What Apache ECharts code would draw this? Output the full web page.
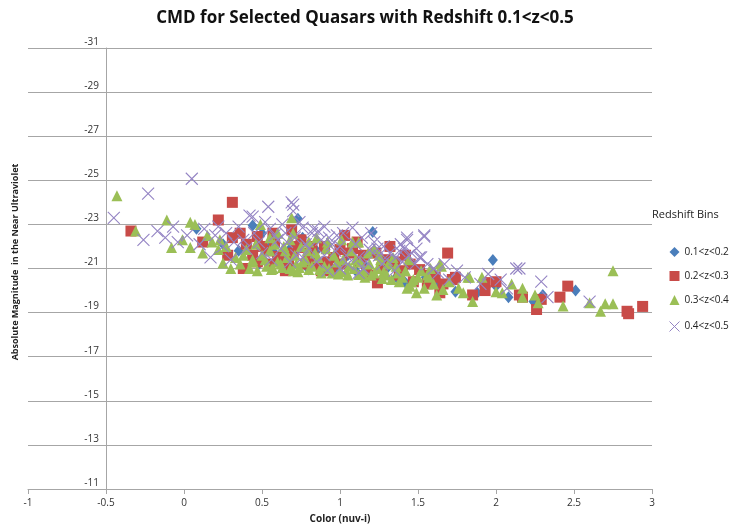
<!DOCTYPE html>
<html><head><meta charset="utf-8">
<script src="https://cdn.jsdelivr.net/npm/echarts@6/dist/echarts.min.js"></script>
<style>html,body{margin:0;padding:0;background:#fff}#c{width:730px;height:529px}</style>
</head><body><div id="c"></div>
<script>
const titleText = "CMD for Selected Quasars with Redshift 0.1<z<0.5";
const xName = "Color (nuv-i)";
const yName = "Absolute Magnitude  in the Near Ultraviolet";
const legendTitle = "Redshift Bins";
const seriesNames = ["0.1<z<0.2", "0.2<z<0.3", "0.3<z<0.4", "0.4<z<0.5"];
const xTicks = [-1, -0.5, 0, 0.5, 1, 1.5, 2, 2.5, 3];
const yTicks = [-31, -29, -27, -25, -23, -21, -19, -17, -15, -13, -11];

const bin1 = [[0.08,-22.8],[0.44,-22.95],[0.73,-23.26],[0.76,-22.4],[1.21,-22.65],[1.42,-20.35],[1.74,-19.95],[1.88,-19.9],[1.98,-21.38],[2.08,-19.7],[2.24,-19.5],[2.51,-20.0],[0.35,-21.8],[0.55,-22.0],[0.62,-21.5],[0.68,-21.9],[0.9,-21.2],[1.05,-21.6],[1.1,-20.9],[1.3,-21.0],[1.55,-20.6],[0.25,-22.1],[0.48,-21.2],[0.85,-21.8],[1.62,-20.3],[2.3,-19.8],[2.0,-20.2],[0.98,-21.0],[0.58,-21.7],[0.8,-20.95],[1.15,-21.2],[1.36,-20.6],[0.5,-22.6]];

const bin2 = [[-0.34,-22.7],[0.12,-22.2],[0.22,-23.2],[0.31,-24.0],[0.28,-21.6],[0.31,-22.4],[0.47,-22.45],[0.5,-22.0],[0.47,-21.3],[0.6,-21.55],[0.69,-22.75],[0.72,-22.0],[0.73,-21.95],[0.62,-21.5],[0.83,-21.5],[0.96,-21.5],[1.0,-21.86],[1.03,-22.5],[1.06,-21.7],[1.08,-21.9],[1.13,-21.3],[1.24,-20.35],[1.27,-21.05],[1.32,-22.0],[1.35,-21.3],[1.47,-20.4],[1.51,-20.95],[1.61,-20.6],[1.69,-21.7],[1.72,-20.5],[1.74,-20.6],[1.85,-19.8],[1.93,-20.36],[1.93,-20.0],[2.0,-20.4],[2.15,-19.8],[2.17,-19.7],[2.26,-19.14],[2.29,-19.6],[2.41,-19.7],[2.46,-20.2],[2.84,-19.06],[2.85,-18.95],[2.94,-19.28],[0.38,-21.0],[0.55,-21.2],[0.65,-20.9],[0.78,-21.2],[0.88,-20.9],[0.92,-21.3],[1.15,-21.6],[1.2,-20.7],[1.4,-20.9],[1.45,-21.2],[1.56,-20.3],[0.4,-22.1],[0.58,-22.2],[0.82,-22.0],[1.64,-19.9],[0.53,-21.8],[0.57,-22.6],[0.67,-21.3],[0.7,-21.7],[0.75,-22.3],[0.8,-21.7],[0.86,-21.2],[0.9,-22.0],[0.94,-20.9],[1.11,-22.2],[1.17,-20.9],[1.29,-21.4],[1.38,-20.7],[1.42,-21.6],[1.58,-20.7],[1.66,-20.3],[0.36,-22.6],[0.44,-21.6],[1.01,-21.2],[1.23,-21.7]];

const bin3 = [[-0.43,-24.3],[-0.31,-22.7],[-0.11,-23.2],[-0.08,-21.95],[-0.01,-22.3],[0.04,-21.95],[0.04,-23.1],[0.07,-23.0],[0.22,-21.86],[0.23,-22.3],[0.25,-21.25],[0.33,-21.5],[0.4,-21.86],[0.44,-21.3],[0.44,-21.4],[0.49,-23.0],[0.53,-21.1],[0.6,-22.6],[0.63,-21.05],[0.69,-23.3],[0.7,-22.6],[0.74,-21.05],[0.87,-20.95],[0.92,-22.2],[0.95,-20.8],[1.01,-22.3],[1.04,-20.85],[1.08,-22.2],[1.12,-22.2],[1.12,-20.73],[1.18,-21.7],[1.2,-20.7],[1.26,-21.4],[1.3,-20.7],[1.34,-21.5],[1.38,-20.4],[1.43,-20.1],[1.44,-21.4],[1.46,-20.4],[1.47,-20.5],[1.49,-19.9],[1.56,-20.7],[1.57,-20.6],[1.6,-20.3],[1.62,-19.8],[1.64,-21.2],[1.65,-21.1],[1.66,-20.05],[1.76,-20.1],[1.79,-19.9],[1.82,-20.6],[1.83,-20.6],[1.85,-19.5],[1.91,-20.6],[2.04,-19.9],[2.17,-20.1],[2.17,-19.7],[2.25,-19.8],[2.27,-19.45],[2.43,-19.3],[2.6,-19.45],[2.67,-19.06],[2.7,-19.4],[2.75,-19.4],[2.75,-20.9],[0.3,-21.0],[0.36,-21.2],[0.5,-21.6],[0.56,-20.95],[0.6,-21.3],[0.66,-21.5],[0.7,-20.9],[0.78,-21.4],[0.8,-20.95],[0.84,-21.7],[0.9,-21.1],[0.98,-21.3],[1.0,-20.9],[1.06,-21.1],[1.1,-21.4],[1.15,-20.9],[1.24,-21.0],[1.28,-20.85],[1.36,-21.1],[1.4,-20.6],[1.52,-20.9],[0.58,-22.1],[0.65,-21.8],[0.75,-22.0],[0.12,-21.7],[0.18,-22.2],[0.46,-22.1],[0.72,-21.2],[0.85,-22.4],[1.22,-21.9],[1.7,-20.4],[2.0,-19.95],[2.1,-20.3],[0.52,-21.4],[0.55,-21.8],[0.57,-21.0],[0.62,-21.2],[0.64,-22.0],[0.68,-21.0],[0.71,-21.6],[0.73,-20.85],[0.76,-21.3],[0.79,-21.8],[0.82,-21.1],[0.86,-21.5],[0.88,-20.8],[0.91,-21.9],[0.93,-21.0],[0.96,-21.6],[0.99,-20.75],[1.02,-21.4],[1.05,-20.7],[1.07,-21.8],[1.09,-21.0],[1.13,-21.3],[1.16,-20.6],[1.19,-21.2],[1.22,-20.8],[1.25,-21.6],[1.27,-20.55],[1.31,-21.2],[1.33,-20.5],[1.37,-20.8],[1.42,-20.9],[1.45,-20.2],[1.5,-20.6],[1.54,-20.1],[1.58,-21.0],[0.42,-21.0],[0.47,-20.9],[0.38,-21.6],[0.27,-22.0],[0.15,-22.5],[0.55,-22.4],[0.8,-22.2],[0.68,-22.3]];

const bin4 = [[-0.45,-23.3],[-0.26,-22.3],[-0.23,-24.4],[-0.17,-22.7],[-0.07,-22.9],[-0.04,-22.2],[0.05,-25.07],[0.13,-22.8],[0.17,-21.5],[0.2,-22.5],[0.27,-22.6],[0.35,-22.9],[0.42,-23.4],[0.44,-23.35],[0.38,-22.3],[0.54,-23.8],[0.55,-22.8],[0.6,-22.3],[0.69,-24.0],[0.7,-23.6],[0.7,-23.9],[0.76,-22.85],[0.82,-22.6],[0.83,-22.8],[0.88,-22.3],[0.95,-22.1],[1.08,-22.85],[1.0,-22.0],[1.12,-21.5],[1.19,-21.85],[1.22,-22.2],[1.3,-21.4],[1.25,-21.6],[1.38,-21.8],[1.41,-21.9],[1.43,-22.3],[1.43,-22.4],[1.46,-21.7],[1.51,-21.5],[1.52,-21.5],[1.54,-22.5],[1.54,-22.45],[1.48,-21.2],[1.6,-21.0],[1.67,-21.2],[1.75,-20.9],[1.95,-20.75],[2.03,-20.5],[2.07,-20.1],[2.13,-21.0],[2.15,-21.0],[2.29,-20.4],[2.33,-19.7],[2.6,-19.5],[0.5,-21.7],[0.62,-21.9],[0.72,-21.6],[0.8,-21.9],[0.9,-21.6],[1.05,-21.2],[1.15,-21.0],[1.35,-20.9],[0.3,-21.4],[0.1,-22.1],[0.25,-22.0],[0.45,-22.6],[0.65,-22.6],[0.98,-22.5],[1.2,-22.6],[1.4,-21.3],[1.8,-20.6],[1.9,-20.3],[1.7,-20.5],[0.92,-20.9],[0.48,-22.2],[0.52,-23.1],[0.58,-22.5],[0.63,-23.0],[0.66,-22.2],[0.71,-22.4],[0.74,-23.1],[0.78,-22.1],[0.86,-22.7],[0.9,-22.9],[0.93,-22.4],[0.97,-21.8],[1.02,-22.6],[1.04,-21.6],[1.1,-22.1],[1.14,-22.4],[1.17,-21.3],[1.24,-21.9],[1.28,-22.0],[1.32,-21.7],[1.36,-21.5],[1.39,-22.1],[1.44,-21.6],[1.49,-21.9],[1.56,-21.2],[1.63,-20.8],[0.56,-21.4],[0.68,-21.3],[0.85,-21.3],[1.0,-21.0],[0.4,-21.9],[0.32,-22.2],[0.22,-22.9],[0.02,-22.5],[-0.12,-22.4],[1.12,-20.8],[1.27,-21.2],[0.76,-21.5]];

const colors = ["#4a7ebb", "#c84b48", "#9bbf56", "#9484c4"];
const crossPath = "path://M0,0L10,10M10,0L0,10";
const FONT = "Open Sans";

const chart = echarts.init(document.getElementById('c'), null, {renderer: 'canvas'});
const gridLeft = 28, gridRight = 78, gridTop = 48, gridBottom = 39;
const plotW = 730 - gridLeft - gridRight;
const yAxisAt = -0.5;
const yAxisOffset = -((yAxisAt - xTicks[0]) / (xTicks[xTicks.length-1] - xTicks[0])) * plotW;

chart.setOption({
  animation: false,
  backgroundColor: '#fff',
  color: colors,
  title: {
    text: titleText, left: 'center', top: 5,
    textStyle: {fontFamily: FONT, fontSize: 17, fontWeight: 'bold', color: '#111'}
  },
  grid: {left: gridLeft, right: gridRight, top: gridTop, bottom: gridBottom, containLabel: false},
  xAxis: {
    type: 'value', min: xTicks[0], max: xTicks[xTicks.length-1], interval: 0.5,
    name: xName, nameLocation: 'middle', nameGap: 25,
    nameTextStyle: {fontFamily: FONT, fontSize: 10, fontWeight: 'bold', color: '#222'},
    axisLine: {show: true, onZero: false, lineStyle: {color: '#a6a6a6'}},
    axisTick: {show: true, length: 5, lineStyle: {color: '#a6a6a6'}},
    axisLabel: {fontFamily: FONT, fontSize: 10, color: '#333', margin: 9},
    splitLine: {show: false}
  },
  yAxis: {
    type: 'value', inverse: true, min: yTicks[0], max: yTicks[yTicks.length-1], interval: 2,
    position: 'left', offset: yAxisOffset,
    axisLine: {show: true, onZero: false, lineStyle: {color: '#a6a6a6'}},
    axisTick: {show: true, length: 5, lineStyle: {color: '#a6a6a6'}},
    axisLabel: {fontFamily: FONT, fontSize: 10, color: '#333', margin: 7, verticalAlign: 'bottom', lineHeight: 12},
    splitLine: {show: true, lineStyle: {color: '#a6a6a6', width: 1}}
  },
  legend: {
    orient: 'vertical', left: 662, top: 242, itemGap: 14, itemWidth: 10, itemHeight: 10,
    textStyle: {fontFamily: FONT, fontSize: 10, color: '#222'},
    data: [
      {name: seriesNames[0], icon: 'diamond'},
      {name: seriesNames[1], icon: 'rect'},
      {name: seriesNames[2], icon: 'triangle'},
      {name: seriesNames[3], icon: crossPath, itemStyle: {color: 'none', borderColor: colors[3], borderWidth: 1}}
    ]
  },
  graphic: [
    {type: 'text', left: 652, top: 209, style: {text: legendTitle, font: '11px "Open Sans"', fill: '#222'}},
    {type: 'text', x: 15, y: 262, rotation: Math.PI/2, style: {text: yName, font: 'bold 9px "Open Sans"', fill: '#222', align: 'center', verticalAlign: 'middle'}}
  ],
  series: [
    {name: seriesNames[0], type: 'scatter', data: bin1, symbol: 'diamond', symbolSize: [10, 12], itemStyle: {color: colors[0], opacity: 1}},
    {name: seriesNames[1], type: 'scatter', data: bin2, symbol: 'rect', symbolSize: 11, itemStyle: {color: colors[1], opacity: 1}},
    {name: seriesNames[2], type: 'scatter', data: bin3, symbol: 'triangle', symbolSize: 11, itemStyle: {color: colors[2], opacity: 1}},
    {name: seriesNames[3], type: 'scatter', data: bin4, symbol: crossPath, symbolSize: 12, itemStyle: {color: 'none', borderColor: colors[3], borderWidth: 1.1, opacity: 1}}
  ]
});
</script></body></html>
